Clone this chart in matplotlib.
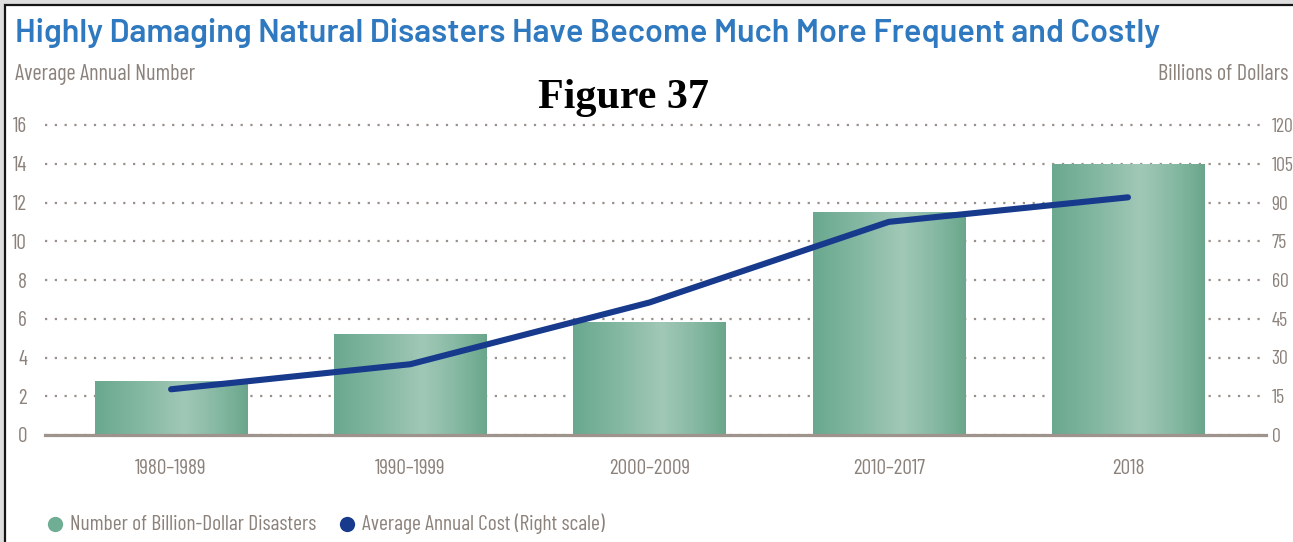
import matplotlib
matplotlib.use('Agg')
import matplotlib.pyplot as plt
import numpy as np
from matplotlib.colors import LinearSegmentedColormap
from matplotlib.patches import Rectangle
from matplotlib.lines import Line2D
from matplotlib import font_manager

# ---------------- data ----------------
periods = ['1980–1989', '1990–1999', '2000–2009', '2010–2017', '2018']
disaster_counts = [2.8, 5.2, 5.85, 11.5, 14.0]
annual_cost = [17.7, 27.4, 51.3, 82.5, 92.0]
left_ticks = [0, 2, 4, 6, 8, 10, 12, 14, 16]
right_ticks = [0, 15, 30, 45, 60, 75, 90, 105, 120]

title_text = 'Highly Damaging Natural Disasters Have Become Much More Frequent and Costly'
left_label = 'Average Annual Number'
right_label = 'Billions of Dollars'
figure_label = 'Figure 37'
legend_labels = ['Number of Billion-Dollar Disasters', 'Average Annual Cost (Right scale)']

# ---------------- style ----------------
W, H = 1293, 542
GRAY = '#8c827c'
GRID = '#9a8f89'
BASE = '#9e938d'
NAVY = '#173a8c'
GREEN = '#70ad95'
BLUE = '#2e79bf'

names = {f.name for f in font_manager.fontManager.ttflist}


def pick(cands):
    for c in cands:
        if c in names:
            return c
    return 'DejaVu Sans'


NARROW = pick(['Barlow Condensed', 'Barlow Semi Condensed', 'Roboto Condensed', 'Saira Condensed',
               'Archivo Narrow', 'PT Sans Narrow', 'Liberation Sans Narrow'])
if 'Barlow SemiBold' in names:
    TITLE_FONT, TITLE_W = 'Barlow SemiBold', 'normal'
elif 'Barlow' in names:
    TITLE_FONT, TITLE_W = 'Barlow', 600
else:
    TITLE_FONT, TITLE_W = pick(['Roboto']), 'bold'
SERIF = pick(['Liberation Serif', 'DejaVu Serif'])

fig = plt.figure(figsize=(W / 100, H / 100), dpi=100)
fig.patch.set_facecolor('#dedede')
renderer = fig.canvas.get_renderer()


def fx(px):
    return px / W


def fy(py):
    return 1 - py / H


def fit_size(text, family, weight, target_px, base=20):
    t = fig.text(0, 0, text, fontsize=base, family=family, weight=weight)
    w = t.get_window_extent(renderer).width
    t.remove()
    return base * target_px / w


# white card with black frame (top/left visible)
fig.add_artist(Rectangle((fx(5), -0.1), 1.2, fy(5) + 0.1, transform=fig.transFigure,
                         facecolor='white', edgecolor='#151515', lw=1.6, zorder=0))

# ---------------- axes ----------------
ax = fig.add_axes([fx(45), (H - 435) / H, (1266 - 45) / W, 310 / H])
ax.set_facecolor('none')
x = np.arange(len(periods))

for s in ['top', 'left', 'right']:
    ax.spines[s].set_visible(False)
ax.spines['bottom'].set_color(BASE)
ax.spines['bottom'].set_linewidth(2.3)
ax.spines['bottom'].set_zorder(4)

ax.set_yticks(left_ticks)
ax.yaxis.grid(True, color=GRID, linestyle=(0, (1, 3.4)), linewidth=1.6)
for gl in ax.get_ygridlines():
    gl.set_clip_on(False)
ax.set_axisbelow(True)

tick_fs = fit_size('1980–1989', NARROW, 'normal', 72)
ax.set_xticks(x, periods)
ax.tick_params(axis='x', length=0, pad=17, labelsize=tick_fs, labelcolor=GRAY)
ax.tick_params(axis='y', length=0, pad=13, labelsize=tick_fs, labelcolor=GRAY)
for lbl in ax.get_xticklabels() + ax.get_yticklabels():
    lbl.set_fontfamily(NARROW)

bar_width = 0.636
bars = ax.bar(x, disaster_counts, width=bar_width, color=GREEN, zorder=2, linewidth=0)

cmap = LinearSegmentedColormap.from_list(
    'bar', [(0.0, '#6aa88f'), (0.3, '#84b8a2'), (0.58, '#a1c8b7'), (0.8, '#86b9a3'), (1.0, '#6aa68c')])
grad = np.linspace(0, 1, 256).reshape(1, -1)
for b in bars:
    bx, by = b.get_x(), b.get_y()
    im = ax.imshow(grad, extent=[bx, bx + b.get_width(), by, by + b.get_height()],
                   aspect='auto', cmap=cmap, zorder=2.1, interpolation='bilinear')
    im.set_clip_path(b)
ax.set_xlim(-0.527, 4.577)
ax.set_ylim(left_ticks[0], left_ticks[-1])

ax2 = ax.twinx()
ax2.set_ylim(right_ticks[0], right_ticks[-1])
ax2.set_yticks(right_ticks)
for s in ax2.spines.values():
    s.set_visible(False)
ax2.tick_params(axis='y', length=0, pad=4, labelsize=tick_fs * 0.93, labelcolor=GRAY)
for lbl in ax2.get_yticklabels():
    lbl.set_fontfamily(NARROW)
ax2.plot(x, annual_cost, color=NAVY, lw=4.4, solid_capstyle='round', solid_joinstyle='round', zorder=5)

# ---------------- texts ----------------
tfs = fit_size(title_text, TITLE_FONT, TITLE_W, 1142)
fig.text(fx(15), fy(42), title_text, fontsize=tfs, family=TITLE_FONT, weight=TITLE_W,
         color=BLUE, va='baseline', ha='left')

lfs = fit_size(left_label, NARROW, 'normal', 180)
fig.text(fx(15), fy(80), left_label, fontsize=lfs, family=NARROW, color=GRAY, va='baseline')
fig.text(fx(1288), fy(80), right_label, fontsize=lfs, family=NARROW, color=GRAY, va='baseline', ha='right')

ffs = fit_size(figure_label, SERIF, 'bold', 171)
fig.text(fx(623), fy(108), figure_label, fontsize=ffs, family=SERIF, weight='bold',
         color='black', va='baseline', ha='center')

# ---------------- legend ----------------
gfs = fit_size(legend_labels[0], NARROW, 'normal', 247)
for cx, tx, col, lab in [(55, 70, GREEN, legend_labels[0]), (347, 362, NAVY, legend_labels[1])]:
    fig.add_artist(Line2D([fx(cx)], [fy(524)], transform=fig.transFigure, marker='o',
                          markersize=11, color=col, markeredgewidth=0, linestyle='none'))
    fig.text(fx(tx), fy(524), lab, fontsize=gfs, family=NARROW, color=GRAY, va='center', ha='left')

fig.savefig('out.png', dpi=100, facecolor=fig.get_facecolor())
